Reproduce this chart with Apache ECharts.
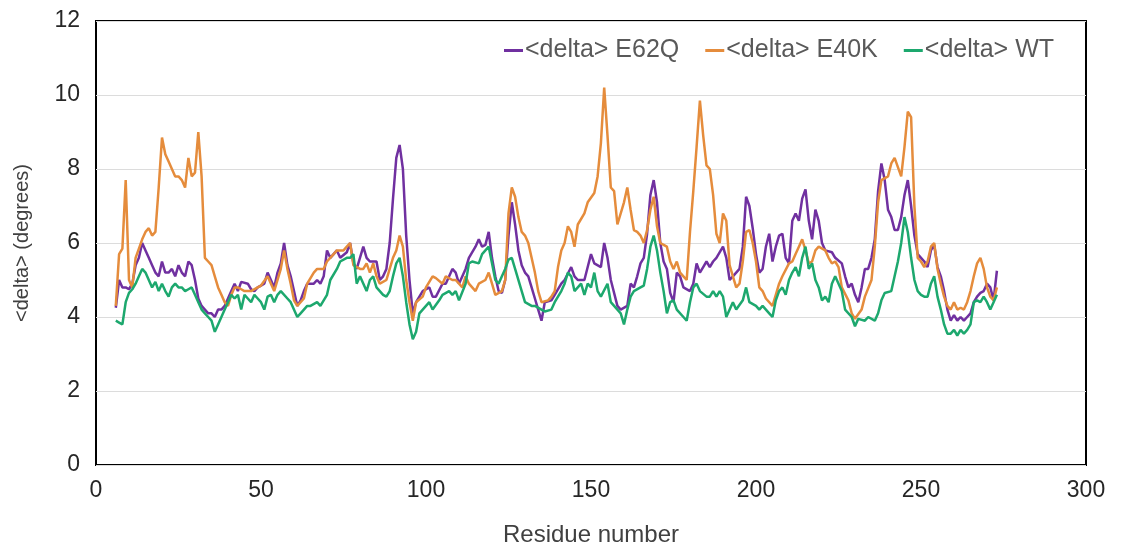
<!DOCTYPE html>
<html>
<head>
<meta charset="utf-8">
<title>delta per residue</title>
<script src="https://cdn.jsdelivr.net/npm/echarts@6/dist/echarts.min.js"></script>
<style>
html, body { margin: 0; padding: 0; background: #fff; }
#chart { width: 1121px; height: 553px; }
</style>
</head>
<body>
<div id="chart"></div>
<script>
// values, residue number -> <delta> in degrees
const e62qRes = [6,7,8,9,10,11,12,13,14,15,16,17,18,19,20,21,22,23,24,25,26,27,28,29,30,31,32,33,34,35,36,37,38,39,40,41,42,43,44,46,47,48,49,50,51,52,53,54,55,56,57,58,59,60,61,62,63,64,66,67,68,69,70,71,72,73,74,76,77,78,79,81,82,83,84,85,86,87,88,89,90,91,92,93,94,95,96,97,98,99,101,102,103,105,106,108,109,110,112,113,115,116,117,118,119,120,121,122,123,124,125,126,127,128,129,130,131,132,133,134,135,136,138,139,141,142,144,145,146,148,149,150,151,153,154,155,156,158,159,161,162,163,164,165,166,167,168,169,170,171,172,173,174,175,176,177,178,180,181,182,183,184,185,186,187,188,190,191,192,193,195,196,197,198,199,200,201,202,203,204,205,206,207,208,209,210,211,212,213,214,215,216,217,218,219,220,221,223,224,226,227,228,229,230,231,232,233,234,235,236,237,238,239,240,241,242,243,244,245,246,247,248,249,250,251,252,253,254,255,256,257,258,259,260,261,262,263,264,265,266,267,268,269,270,271,272,273];
const e62qVal = [4.25,5.0,4.8,4.8,4.75,4.9,5.4,5.6,6.0,5.8,5.6,5.4,5.2,5.1,5.5,5.2,5.2,5.3,5.1,5.4,5.2,5.1,5.5,5.4,5.0,4.5,4.3,4.2,4.1,4.1,4.0,4.2,4.2,4.3,4.5,4.7,4.9,4.7,4.95,4.9,4.75,4.7,4.8,4.85,4.9,5.2,5.0,4.8,5.2,5.45,6.0,5.4,5.1,4.7,4.3,4.45,4.7,4.9,4.9,5.0,4.9,5.1,5.8,5.6,5.7,5.8,5.6,5.75,6.0,5.45,5.3,5.9,5.6,5.5,5.5,5.5,5.0,5.1,5.3,6.0,7.2,8.3,8.65,8.0,6.2,5.0,4.1,4.4,4.55,4.7,4.8,4.55,4.55,4.9,4.9,5.3,5.2,4.9,5.3,5.6,5.9,6.1,5.9,5.95,6.3,5.6,5.1,4.7,4.65,5.0,6.2,7.1,6.5,5.8,5.4,5.2,5.1,4.8,4.5,4.2,3.9,4.4,4.45,4.6,4.9,5.0,5.35,5.1,5.0,5.0,5.35,5.7,5.45,5.35,6.0,5.6,5.0,4.3,4.2,4.3,4.9,4.8,5.1,5.45,5.6,6.25,7.3,7.7,7.1,6.0,5.5,5.3,4.65,4.4,5.2,5.1,4.8,4.7,4.9,5.45,5.2,5.35,5.5,5.35,5.5,5.6,5.9,5.6,5.0,5.1,5.3,5.9,7.25,7.0,6.4,5.7,5.2,5.3,5.9,6.25,5.5,5.9,6.2,6.25,5.6,5.45,6.6,6.8,6.6,7.2,7.45,6.6,6.1,6.9,6.6,6.0,5.8,5.75,5.6,5.45,5.1,4.8,4.9,4.6,4.4,4.8,5.3,5.3,5.6,6.1,7.4,8.15,7.7,6.9,6.7,6.35,6.35,6.7,7.3,7.7,7.0,6.2,5.7,5.6,5.5,5.35,5.8,5.95,5.35,5.1,4.7,4.2,3.9,4.05,3.9,4.0,3.9,4.0,4.1,4.4,4.55,4.65,4.7,4.9,4.8,4.45,5.25];

const e40kRes = [6,7,8,9,10,11,12,13,14,15,16,17,18,19,20,21,22,23,24,25,26,27,28,29,30,31,32,33,34,35,36,37,38,39,40,41,42,43,44,45,46,47,49,50,52,54,56,57,58,59,60,61,63,64,66,67,69,70,72,73,75,76,77,78,80,81,82,83,84,85,86,88,89,90,91,92,93,94,95,96,97,99,100,102,103,105,106,108,109,111,112,113,115,116,118,119,120,121,123,124,125,126,127,128,129,130,131,132,133,134,135,137,138,139,140,141,142,143,144,145,146,148,149,151,152,153,154,155,156,157,158,160,161,162,163,164,165,166,167,168,169,170,171,172,173,174,175,176,177,178,179,180,181,182,183,184,185,186,187,188,189,190,191,192,193,194,195,196,197,198,199,200,201,202,203,205,206,207,208,210,211,212,213,214,215,216,217,218,219,221,222,223,224,225,226,228,229,230,232,233,235,236,237,238,240,241,242,243,244,245,246,247,248,249,250,251,252,253,254,255,256,257,258,259,260,261,262,263,264,265,266,267,268,269,270,271,272,273];
const e40kVal = [4.3,5.7,5.85,7.7,5.0,4.8,5.6,5.85,6.1,6.3,6.4,6.2,6.3,7.5,8.85,8.4,8.2,8.0,7.8,7.8,7.7,7.5,8.3,7.8,7.9,9.0,7.8,5.6,5.5,5.4,5.1,4.8,4.6,4.4,4.3,4.6,4.8,4.8,4.75,4.7,4.7,4.7,4.8,4.85,5.1,4.7,5.3,5.8,5.3,4.9,4.45,4.3,4.5,4.9,5.2,5.3,5.3,5.5,5.7,5.8,5.8,5.9,6.0,5.4,5.3,5.3,5.45,5.2,5.45,5.1,4.9,5.0,5.3,5.6,5.8,6.2,5.9,5.0,4.4,3.9,4.4,4.55,4.8,5.1,5.05,4.9,5.1,5.0,5.0,4.8,5.1,4.9,4.7,4.9,5.0,5.2,4.9,4.6,4.7,5.0,6.8,7.5,7.25,6.7,6.3,6.2,6.0,5.6,5.2,4.7,4.4,4.45,4.55,4.7,5.35,5.8,6.0,6.45,6.3,5.9,6.5,6.8,7.1,7.35,7.8,8.7,10.2,8.9,7.5,7.4,6.5,7.1,7.5,6.9,6.35,6.3,6.2,6.0,6.35,6.9,7.25,6.45,6.0,5.95,5.9,5.5,5.3,5.5,5.2,5.1,5.0,6.3,7.4,8.6,9.85,8.9,8.1,8.0,7.3,6.25,6.0,6.8,6.6,5.4,5.1,4.8,4.9,5.5,6.3,6.35,6.0,5.5,4.8,4.7,4.5,4.3,4.6,4.9,5.1,5.45,5.5,5.7,5.9,6.1,5.8,5.45,5.5,5.8,5.9,5.8,5.6,5.45,5.5,5.35,4.8,4.45,4.1,3.95,4.2,4.55,5.0,5.9,7.1,7.7,7.8,8.15,8.3,8.05,7.8,8.6,9.55,9.4,7.0,5.6,5.5,5.35,5.5,5.9,6.0,5.3,4.9,4.55,4.3,4.2,4.4,4.2,4.25,4.2,4.4,4.7,5.1,5.45,5.6,5.3,4.8,4.55,4.45,4.8];

const wtRes = [6,7,8,9,10,11,12,13,14,15,16,17,18,19,20,21,22,23,24,25,26,27,28,29,30,31,32,33,34,35,36,37,38,39,40,41,42,43,44,45,46,47,48,49,50,51,52,53,54,55,56,58,59,61,62,64,65,67,68,70,71,73,74,76,77,78,79,80,82,83,84,85,86,87,88,89,90,91,92,93,94,95,96,97,98,99,101,102,104,105,107,108,109,110,112,113,114,116,117,119,120,121,122,123,124,125,126,127,129,130,132,133,135,136,138,139,141,142,143,144,145,147,148,149,150,151,152,153,155,156,158,159,160,161,162,163,165,166,167,168,169,170,171,172,173,174,175,176,178,179,180,181,182,183,185,186,187,188,189,190,191,193,194,196,197,198,200,201,202,204,205,206,207,208,209,210,211,212,213,214,215,216,217,218,219,220,221,222,223,224,226,227,229,230,231,233,234,236,237,238,239,241,242,243,244,245,246,247,248,249,250,251,252,253,254,255,256,257,258,259,260,261,262,263,264,265,266,267,268,269,270,271,272,273];
const wtVal = [3.9,3.85,3.8,4.4,4.65,4.75,4.9,5.1,5.3,5.2,5.0,4.8,4.95,4.7,4.9,4.7,4.55,4.8,4.9,4.8,4.8,4.7,4.75,4.8,4.6,4.4,4.2,4.1,4.0,3.9,3.6,3.8,4.0,4.2,4.4,4.6,4.5,4.6,4.2,4.6,4.5,4.4,4.6,4.5,4.4,4.2,4.55,4.6,4.4,4.6,4.7,4.5,4.4,4.0,4.1,4.3,4.3,4.4,4.3,4.6,5.0,5.3,5.5,5.6,5.6,5.7,4.9,5.1,4.7,5.0,5.1,4.8,4.7,4.6,4.55,4.7,5.1,5.45,5.6,5.1,4.4,3.8,3.4,3.6,4.1,4.2,4.4,4.2,4.45,4.6,4.7,4.6,4.7,4.45,4.9,5.45,5.5,5.45,5.7,5.9,5.45,5.0,4.9,5.1,5.3,5.55,5.6,5.3,4.7,4.4,4.3,4.3,4.2,4.15,4.2,4.4,4.7,4.9,5.2,5.1,4.7,4.9,4.6,4.9,4.8,5.2,4.7,4.55,4.9,4.4,4.2,4.1,3.8,4.2,4.55,4.7,4.8,4.85,5.3,5.9,6.2,5.8,5.2,4.7,4.1,4.4,4.45,4.2,4.0,3.9,4.4,4.8,4.9,4.7,4.55,4.55,4.7,4.55,4.7,4.55,4.0,4.4,4.2,4.45,4.8,4.4,4.3,4.2,4.3,4.1,4.0,4.45,4.7,4.8,4.6,5.0,5.2,5.35,5.1,5.6,5.9,5.3,5.45,5.0,4.8,4.45,4.55,4.4,4.9,5.1,4.7,4.2,4.0,3.75,3.95,3.9,4.0,3.9,4.1,4.45,4.65,4.7,5.1,5.5,6.0,6.7,6.3,5.6,5.0,4.7,4.6,4.55,4.55,4.9,5.1,4.55,4.2,3.8,3.55,3.55,3.65,3.5,3.65,3.55,3.65,3.8,4.4,4.45,4.4,4.55,4.4,4.2,4.4,4.6];

const seriesNames = ['<delta> E62Q', '<delta> E40K', '<delta> WT'];
const seriesColors = ['#7030A0', '#E58C3C', '#1DA86E'];
const xTicks = [0, 50, 100, 150, 200, 250, 300];
const yTicks = [0, 2, 4, 6, 8, 10, 12];

function pairs(res, val) {
    let out = [];
    for (let i = 0; i < res.length; i++) {
        out.push([res[i], val[i]]);
    }
    return out;
}

const allData = [pairs(e62qRes, e62qVal), pairs(e40kRes, e40kVal), pairs(wtRes, wtVal)];
const fontName = 'Liberation Sans';

let chart = echarts.init(document.getElementById('chart'), null, { renderer: 'canvas' });
let option = {
    backgroundColor: '#fff',
    animation: false,
    textStyle: { fontFamily: fontName },
    grid: {
        left: 96,
        right: 35,
        top: 21,
        bottom: 88,
        show: true,
        borderColor: '#000',
        borderWidth: 2
    },
    legend: {
        right: 62,
        top: 33,
        itemWidth: 19,
        itemHeight: 3,
        itemGap: 26,
        icon: 'rect',
        textStyle: {
            fontSize: 25,
            color: '#595959',
            fontFamily: fontName,
            padding: [0, 0, 0, -3]
        },
        data: seriesNames
    },
    xAxis: {
        type: 'value',
        min: xTicks[0],
        max: xTicks[xTicks.length - 1],
        interval: xTicks[1] - xTicks[0],
        name: 'Residue number',
        nameLocation: 'middle',
        nameGap: 58,
        nameTextStyle: { fontSize: 24, color: '#404040', fontFamily: fontName },
        axisLine: { show: false },
        axisTick: { show: false },
        splitLine: { show: false },
        axisLabel: { fontSize: 23, color: '#262626', margin: 14, fontFamily: fontName }
    },
    yAxis: {
        type: 'value',
        min: yTicks[0],
        max: yTicks[yTicks.length - 1],
        interval: yTicks[1] - yTicks[0],
        name: '<delta> (degrees)',
        nameLocation: 'middle',
        nameGap: 64,
        nameTextStyle: { fontSize: 20, color: '#404040', fontFamily: fontName },
        axisLine: { show: false },
        axisTick: { show: false },
        splitLine: { show: true, lineStyle: { color: '#dcdcdc', width: 1 } },
        axisLabel: { fontSize: 23, color: '#262626', margin: 16, fontFamily: fontName }
    },
    series: seriesNames.map((name, i) => ({
        name: name,
        type: 'line',
        data: allData[i],
        showSymbol: false,
        symbol: 'none',
        smooth: false,
        lineStyle: { color: seriesColors[i], width: 2.5 },
        itemStyle: { color: seriesColors[i] }
    }))
};
chart.setOption(option);
</script>
</body>
</html>
